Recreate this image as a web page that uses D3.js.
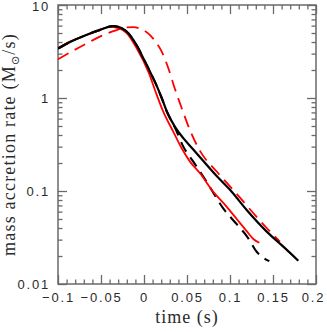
<!DOCTYPE html>
<html><head><meta charset="utf-8">
<script src="https://cdn.jsdelivr.net/npm/d3@7"></script>
<style>body{margin:0;background:#fff}svg{display:block}</style>
</head><body><svg id="c" width="327" height="332"></svg>
<script>
// ---- data (time in s, mass accretion rate in Msun/s) ----
const blackSolidT = [-0.1,-0.086,-0.0686,-0.0512,-0.036,-0.0256,-0.0183,-0.0124,-0.0066,-0.0008,0.007,0.0148,0.0206,0.0264,0.036,0.0457,0.0573,0.069,0.0845,0.1,0.1194,0.1427,0.162,0.1794];
const blackSolidV = [3.40,4.0,4.70,5.40,5.92,5.61,4.97,4.21,3.42,2.67,1.92,1.35,1.0,0.72,0.49,0.37,0.28,0.21,0.145,0.103,0.0625,0.0366,0.0252,0.0178];
const blackDashT = [-0.1,-0.086,-0.0686,-0.0512,-0.036,-0.0256,-0.0183,-0.0124,-0.0066,-0.0008,0.007,0.0148,0.0206,0.0264,0.036,0.0457,0.0573,0.0729,0.0932,0.1078,0.1203,0.131,0.137,0.1457];
const blackDashV = [3.40,4.0,4.70,5.40,5.92,5.61,4.97,4.21,3.42,2.67,1.92,1.35,1.0,0.72,0.48,0.30,0.207,0.125,0.063,0.044,0.032,0.0222,0.0197,0.0176];
const redSolidT = [-0.1,-0.086,-0.0686,-0.0512,-0.040,-0.030,-0.0201,-0.0085,0.005,0.0145,0.0224,0.034,0.0438,0.0535,0.0651,0.0806,0.096,0.1078,0.1194,0.1271,0.1341];
const redSolidV = [3.45,4.05,4.70,5.38,5.82,5.65,4.97,3.42,1.92,1.1,0.713,0.435,0.288,0.207,0.155,0.098,0.068,0.050,0.037,0.0305,0.0278];
const redDashT = [-0.1,-0.0628,-0.0473,-0.0317,-0.0201,-0.0124,-0.0027,0.007,0.0148,0.0206,0.0283,0.036,0.0438,0.0535,0.0651,0.0845,0.1,0.1078,0.127,0.1427,0.1581];
const redDashV = [2.61,4.03,4.75,5.38,5.75,5.78,5.48,4.75,3.87,3.15,2.09,1.25,0.78,0.45,0.27,0.162,0.112,0.093,0.058,0.040,0.0285];
const xMajorTicks = [-0.1,-0.05,0,0.05,0.1,0.15,0.2];
const xTickLabels = ["\u22120.1","\u22120.05","0","0.05","0.1","0.15","0.2"];
const yMajorTicks = [0.01,0.1,1,10];
const yTickLabels = ["0.01","0.1","1","10"];
const xTitle = "time (s)";

const svg = d3.select("#c");
const L=58,R=316,T=5,B=284;
const x = d3.scaleLinear().domain([-0.1,0.2]).range([L,R]);
const y = d3.scaleLog().domain([0.01,10]).range([B,T]);
const frameCol="#6a6a6a";

// minor ticks
const xMinor = d3.range(-10,21).map(i=>i/100).filter(v=>!xMajorTicks.some(m=>Math.abs(m-v)<1e-9));
const yMinor = y.ticks().filter(v=>!yMajorTicks.some(m=>Math.abs(m-v)<1e-12));

function styleAxis(g){
  g.select(".domain").remove();
  g.selectAll(".tick line").attr("stroke",frameCol).attr("stroke-width",1.3);
}
// bottom
svg.append("g").attr("transform",`translate(0,${B})`).call(d3.axisBottom(x).tickValues(xMinor).tickSize(-4.5).tickFormat("")).call(styleAxis);
const bx = svg.append("g").attr("transform",`translate(0,${B})`).call(d3.axisBottom(x).tickValues(xMajorTicks).tickSize(-9).tickPadding(9).tickFormat((d,i)=>xTickLabels[i])).call(styleAxis);
// top
svg.append("g").attr("transform",`translate(0,${T})`).call(d3.axisTop(x).tickValues(xMinor).tickSize(-4.5).tickFormat("")).call(styleAxis);
svg.append("g").attr("transform",`translate(0,${T})`).call(d3.axisTop(x).tickValues(xMajorTicks).tickSize(-9).tickFormat("")).call(styleAxis);
// left
svg.append("g").attr("transform",`translate(${L},0)`).call(d3.axisLeft(y).tickValues(yMinor).tickSize(-4.5).tickFormat("")).call(styleAxis);
const ly = svg.append("g").attr("transform",`translate(${L},0)`).call(d3.axisLeft(y).tickValues(yMajorTicks).tickSize(-9).tickPadding(8).tickFormat((d,i)=>yTickLabels[i])).call(styleAxis);
// right
svg.append("g").attr("transform",`translate(${R},0)`).call(d3.axisRight(y).tickValues(yMinor).tickSize(-4.5).tickFormat("")).call(styleAxis);
svg.append("g").attr("transform",`translate(${R},0)`).call(d3.axisRight(y).tickValues(yMajorTicks).tickSize(-9).tickFormat("")).call(styleAxis);

[bx,ly].forEach(g=>g.selectAll(".tick text").attr("fill","#2a2a2a").style("font-family","'Liberation Sans',sans-serif").style("font-size","13px").style("letter-spacing","1.8px"));
ly.selectAll(".tick text").filter(d=>d===10).attr("dy","0.42em");
bx.selectAll(".tick text").filter(d=>d===0.2).attr("dx",-3);

// frame
svg.append("rect").attr("x",L).attr("y",T).attr("width",R-L).attr("height",B-T).attr("fill","none").attr("stroke",frameCol).attr("stroke-width",1.5);

// curves
svg.append("clipPath").attr("id","cp").append("rect").attr("x",L).attr("y",T).attr("width",R-L).attr("height",B-T);
const line = d3.line().x(d=>x(d[0])).y(d=>y(d[1])).curve(d3.curveMonotoneX);
const series = [
  {t:redDashT,v:redDashV,c:"#f00",w:1.8,dash:"12,7"},
  {t:blackDashT,v:blackDashV,c:"#000",w:2.1,dash:"11,7"},
  {t:redSolidT,v:redSolidV,c:"#f00",w:1.8,dash:null},
  {t:blackSolidT,v:blackSolidV,c:"#000",w:2.2,dash:null}
];
series.forEach(s=>{
  svg.append("path").datum(s.t.map((t,i)=>[t,s.v[i]]))
    .attr("d",line).attr("fill","none").attr("stroke",s.c).attr("stroke-width",s.w)
    .attr("stroke-dasharray",s.dash).attr("clip-path","url(#cp)");
});

// axis titles
const tf = "'Liberation Serif',serif";
svg.append("text").attr("x",(L+R)/2).attr("y",323).attr("text-anchor","middle")
  .style("font-family",tf).style("font-size","18px").style("letter-spacing","1px").attr("fill","#2a2a2a").text(xTitle);
const yt = svg.append("text").attr("transform",`translate(15,${(T+B)/2}) rotate(-90)`).attr("text-anchor","middle")
  .style("font-family",tf).style("font-size","18px").style("letter-spacing","1.2px").attr("fill","#2a2a2a");
yt.append("tspan").text("mass accretion rate (M");
yt.append("tspan").attr("dy",4).style("font-size","11px").style("font-family","'DejaVu Sans',sans-serif").text("\u2299");
yt.append("tspan").attr("dy",-4).text("/s)");
</script></body></html>
